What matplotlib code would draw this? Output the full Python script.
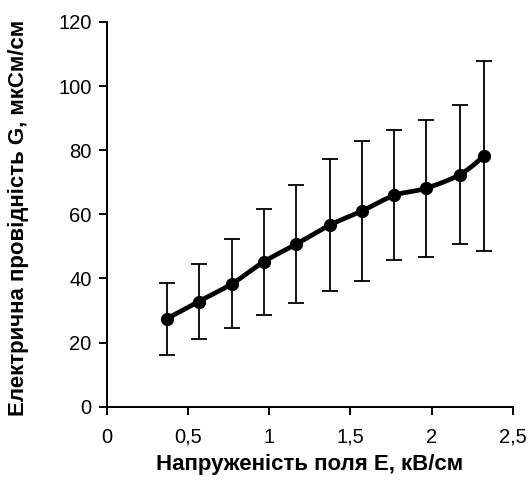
import numpy as np
import matplotlib
matplotlib.use('Agg')
import matplotlib.pyplot as plt
from matplotlib.ticker import FuncFormatter, MultipleLocator

plt.rcParams['font.family'] = ['Liberation Sans', 'DejaVu Sans']

# data
field_E = [0.368, 0.566, 0.773, 0.967, 1.166, 1.376, 1.574, 1.769, 1.963, 2.174, 2.321]
cond_G = [27.4, 32.8, 38.4, 45.2, 50.7, 56.7, 61.1, 65.9, 68.1, 72.4, 78.1]
cond_err = [11.2, 11.55, 14.0, 16.45, 18.5, 20.5, 21.75, 20.25, 21.45, 21.55, 29.6]


def smooth(x, y, n=20):
    # Excel-like smoothed line (Catmull-Rom through the points)
    x = np.asarray(x, float); y = np.asarray(y, float)
    px = np.concatenate([[x[0]], x, [x[-1]]])
    py = np.concatenate([[y[0]], y, [y[-1]]])
    xs, ys = [], []
    t = np.linspace(0, 1, n)
    for i in range(1, len(px) - 2):
        p0, p1, p2, p3 = [np.array([px[j], py[j]]) for j in (i - 1, i, i + 1, i + 2)]
        c1 = p1 + (p2 - p0) / 6
        c2 = p2 - (p3 - p1) / 6
        b = ((1 - t) ** 3)[:, None] * p1 + (3 * (1 - t) ** 2 * t)[:, None] * c1 \
            + (3 * (1 - t) * t ** 2)[:, None] * c2 + (t ** 3)[:, None] * p2
        xs.extend(b[:, 0]); ys.extend(b[:, 1])
    return xs, ys


fig = plt.figure(figsize=(5.29, 4.9), dpi=100)
ax = fig.add_axes([0.2017, 0.170, 0.768, 0.7853])

ax.errorbar(field_E, cond_G, yerr=cond_err, fmt='none', ecolor='black',
            elinewidth=1.3, capsize=5.5, capthick=1.3, zorder=2)
sx, sy = smooth(field_E, cond_G)
ax.plot(sx, sy, color='black', lw=3.4, zorder=3, solid_capstyle='round')
ax.plot(field_E, cond_G, 'o', color='black', ms=8.5, zorder=4)

ax.set_xlim(0, 2.5)
ax.set_ylim(0, 120)
ax.xaxis.set_major_locator(MultipleLocator(0.5))
ax.yaxis.set_major_locator(MultipleLocator(20))
ax.xaxis.set_major_formatter(FuncFormatter(lambda v, p: f'{v:g}'.replace('.', ',')))
for s in ('top', 'right'):
    ax.spines[s].set_visible(False)
for s in ('left', 'bottom'):
    ax.spines[s].set_linewidth(1.4)
ax.tick_params(direction='out', length=6, width=1.4, labelsize=14.5, pad=5)
ax.tick_params(axis='x', pad=9)

ax.set_xlabel('Напруженість поля Е, кВ/см', fontsize=16, fontweight='bold', va='center')
ax.set_ylabel('Електрична провідність G, мкСм/см', fontsize=16, fontweight='bold', va='center')
ax.xaxis.set_label_coords(0.5, -0.151)
ax.yaxis.set_label_coords(-0.216, 0.49)

fig.savefig('out.png', dpi=100, facecolor='white')
